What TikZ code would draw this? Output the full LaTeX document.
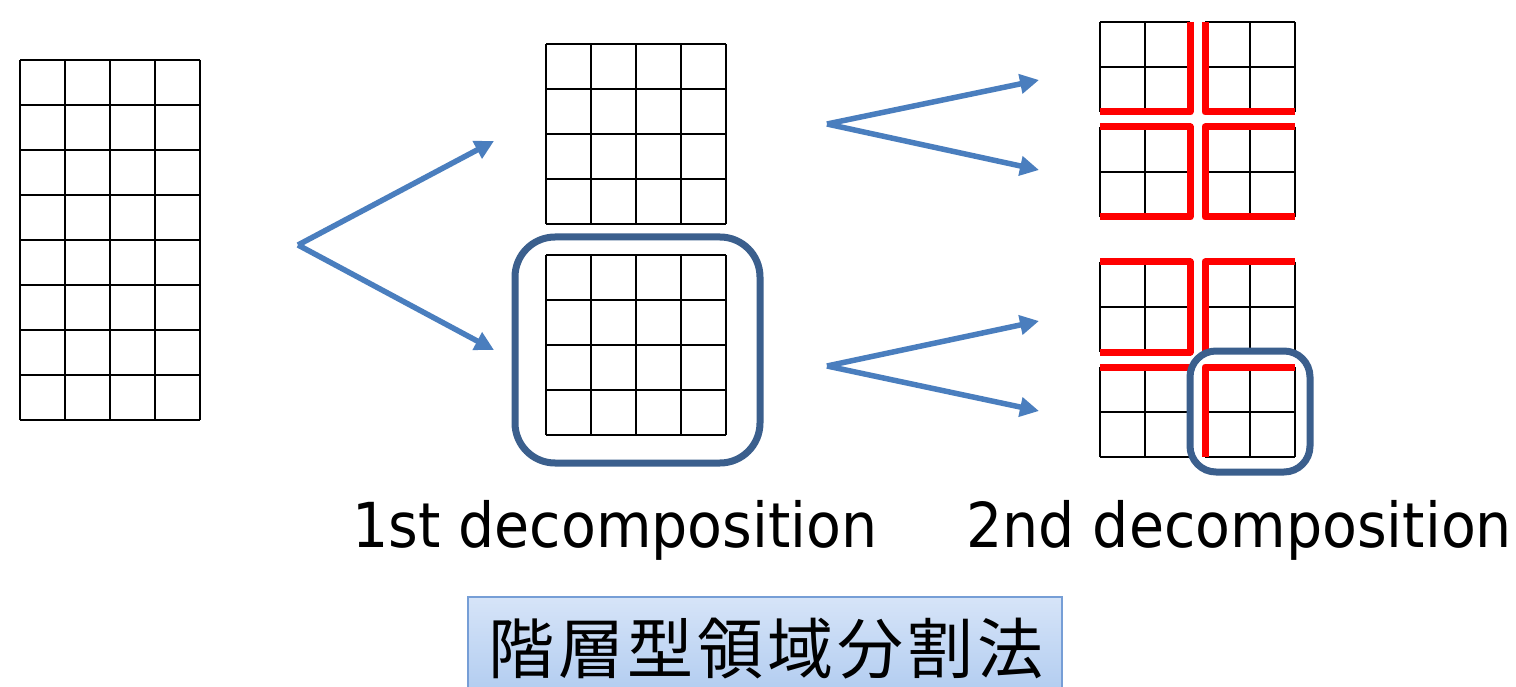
\documentclass[tikz,border=0pt]{standalone}
\usepackage{fontspec}
\setmainfont{DejaVu Sans}[FakeStretch=0.92]
\newfontfamily\cjk{Noto Sans CJK JP}[LetterSpace=6]
\usetikzlibrary{arrows.meta}
\definecolor{arrowblue}{RGB}{74,126,190}
\definecolor{boxblue}{RGB}{59,95,141}
\definecolor{redline}{RGB}{255,0,0}
\definecolor{bandtop}{RGB}{214,228,248}
\definecolor{bandbot}{RGB}{168,198,238}
\definecolor{bandedge}{RGB}{118,158,214}
\tikzset{
  gridline/.style={draw=black,line width=2pt},
  redmark/.style={draw=redline,line width=7pt,line join=round,line cap=butt},
  selbox/.style={draw=boxblue,line width=7pt},
  splitarrow/.style={draw=arrowblue,line width=5.5pt,-{Triangle[length=19pt,width=19pt]}},
  caption/.style={font=\fontsize{62}{70}\selectfont,inner sep=0pt,anchor=base west},
}
\newcommand{\mygrid}[4]{%
  \foreach \i in {0,...,#3} \draw[gridline] ({#1+45*\i},#2) -- ({#1+45*\i},{#2+45*#4});
  \foreach \j in {0,...,#4} \draw[gridline] (#1,{#2+45*\j}) -- ({#1+45*#3},{#2+45*\j});
}
\begin{document}
\begin{tikzpicture}[x=1pt,y=-1pt]
\useasboundingbox (0,0) rectangle (1516,687);
\clip (0,0) rectangle (1516,687);
\fill[white] (0,0) rectangle (1516,687);

% original domain
\mygrid{20}{60}{4}{8}

% 1st decomposition
\mygrid{546}{44}{4}{4}
\mygrid{546}{255}{4}{4}
\draw[selbox,rounded corners=40pt] (515,237) rectangle (760,463);

% arrows, first split
\coordinate (s1) at (298,245);
\coordinate (t1a) at (494,141);
\coordinate (t1b) at (494,350);
\draw[splitarrow] (s1) -- (t1a);
\draw[splitarrow] (s1) -- (t1b);

% arrows, second split (top)
\coordinate (s2) at (827,124);
\coordinate (t2a) at (1039,80);
\coordinate (t2b) at (1039,170);
\draw[splitarrow] (s2) -- (t2a);
\draw[splitarrow] (s2) -- (t2b);

% arrows, second split (bottom)
\coordinate (s3) at (827,366);
\coordinate (t3a) at (1039,321);
\coordinate (t3b) at (1039,411);
\draw[splitarrow] (s3) -- (t3a);
\draw[splitarrow] (s3) -- (t3b);

% 2nd decomposition, top group
\mygrid{1100}{22}{2}{2}
\mygrid{1205}{22}{2}{2}
\mygrid{1100}{127}{2}{2}
\mygrid{1205}{127}{2}{2}
\draw[redmark] (1190,22) -- (1190,112) -- (1100,112);
\draw[redmark] (1205,22) -- (1205,112) -- (1295,112);
\draw[redmark] (1100,127) -- (1190,127) -- (1190,217) -- (1100,217);
\draw[redmark] (1295,127) -- (1205,127) -- (1205,217) -- (1295,217);

% 2nd decomposition, bottom group
\mygrid{1100}{262}{2}{2}
\mygrid{1205}{262}{2}{2}
\mygrid{1100}{367}{2}{2}
\mygrid{1205}{367}{2}{2}
\draw[redmark] (1100,262) -- (1190,262) -- (1190,352) -- (1100,352);
\draw[redmark] (1295,262) -- (1205,262) -- (1205,352);
\draw[redmark] (1100,367) -- (1190,367);
\draw[redmark] (1295,367) -- (1205,367) -- (1205,457);
\draw[selbox,rounded corners=26pt] (1190,351) rectangle (1310,472);

% captions
\node[caption] (cap1) at (352,547) {1st decomposition};
\node[caption] (cap2) at (966,547) {2nd decomposition};

% title band
\draw[draw=bandedge,line width=1.5pt,top color=bandtop,bottom color=bandbot] (468,597) rectangle (1062,720);
\node[font=\cjk\fontsize{66}{76}\selectfont,inner sep=0pt] (title) at (766,649) {階層型領域分割法};
\end{tikzpicture}
\end{document}
